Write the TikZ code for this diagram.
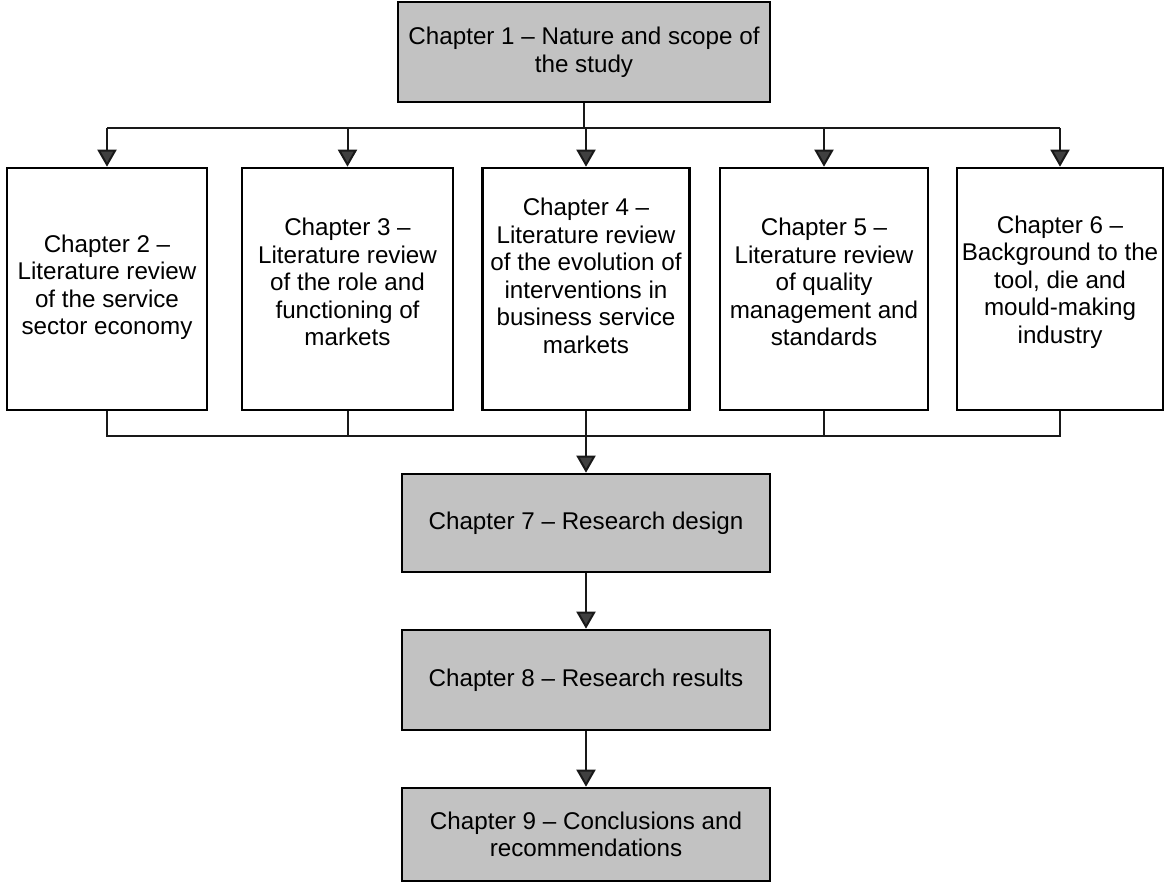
\documentclass[tikz,border=0pt]{standalone}
\usepackage{fontspec}
\setmainfont{Liberation Sans}
\usetikzlibrary{arrows.meta}
\begin{document}
\begin{tikzpicture}[x=1pt,y=-1pt,
  txt/.style={font=\fontsize{24.2}{27.5}\selectfont, align=center, inner sep=0pt},
  chapbox/.style={draw=black, line width=2.6pt, fill=white, minimum width=#1, minimum height=242pt, inner sep=0pt},
  shaded/.style={txt, draw=black, line width=2.6pt, fill=black!24, minimum width=#1},
  link/.style={line width=2pt, draw=black!90},
  arr/.style={link, -{Triangle[width=19pt,length=17pt,fill=black!75]}},
]
\useasboundingbox (0,0) rectangle (1165,883);

% top chapter
\node[shaded=372pt, minimum height=100pt] (c1) at (584,52) {Chapter 1 -- Nature and scope of\\the study};

% literature chapters: frames
\node[chapbox=200pt] (c2) at (107,289) {};
\node[chapbox=211pt] (c3) at (347.5,289) {};
\node[chapbox=207pt] (c4) at (586,289) {};
\node[chapbox=208pt] (c5) at (824,289) {};
\node[chapbox=206pt] (c6) at (1060,289) {};

% literature chapters: titles
\node[txt] (t2) at ([yshift=2pt]c2.center) {Chapter 2 --\\Literature review\\of the service\\sector economy};
\node[txt] (t3) at ([yshift=7pt]c3.center) {Chapter 3 --\\Literature review\\of the role and\\functioning of\\markets};
\node[txt] (t4) at ([yshift=13pt]c4.center) {Chapter 4 --\\Literature review\\of the evolution of\\interventions in\\business service\\markets};
\node[txt] (t5) at ([yshift=7pt]c5.center) {Chapter 5 --\\Literature review\\of quality\\management and\\standards};
\node[txt] (t6) at ([yshift=7pt]c6.center) {Chapter 6 --\\Background to the\\tool, die and\\mould-making\\industry};

% research chapters
\node[shaded=368pt, minimum height=98pt] (c7) at (586,523) {Chapter 7 -- Research design};
\node[shaded=368pt, minimum height=100pt] (c8) at (586,680) {Chapter 8 -- Research results};
\node[shaded=368pt, minimum height=93pt] (c9) at (586,834.5) {Chapter 9 -- Conclusions and\\recommendations};

% distribution bus
\coordinate (topbus) at (0,128);
\draw[link] (c1.south) -- (c1.south |- topbus);
\draw[link] (c2.north |- topbus) -- (c6.north |- topbus);
\foreach \c in {c2,c3,c4,c5,c6}
  \draw[arr] (\c.north |- topbus) -- (\c.north);

% collecting bus
\coordinate (lowbus) at (0,436);
\draw[link] (c2.south) -- (c2.south |- lowbus) -- (c6.south |- lowbus) -- (c6.south);
\draw[link] (c3.south) -- (c3.south |- lowbus);
\draw[link] (c5.south) -- (c5.south |- lowbus);
\draw[arr] (c4.south) -- (c7.north);

\draw[arr] (c7.south) -- (c8.north);
\draw[arr] (c8.south) -- (c9.north);
\end{tikzpicture}
\end{document}
